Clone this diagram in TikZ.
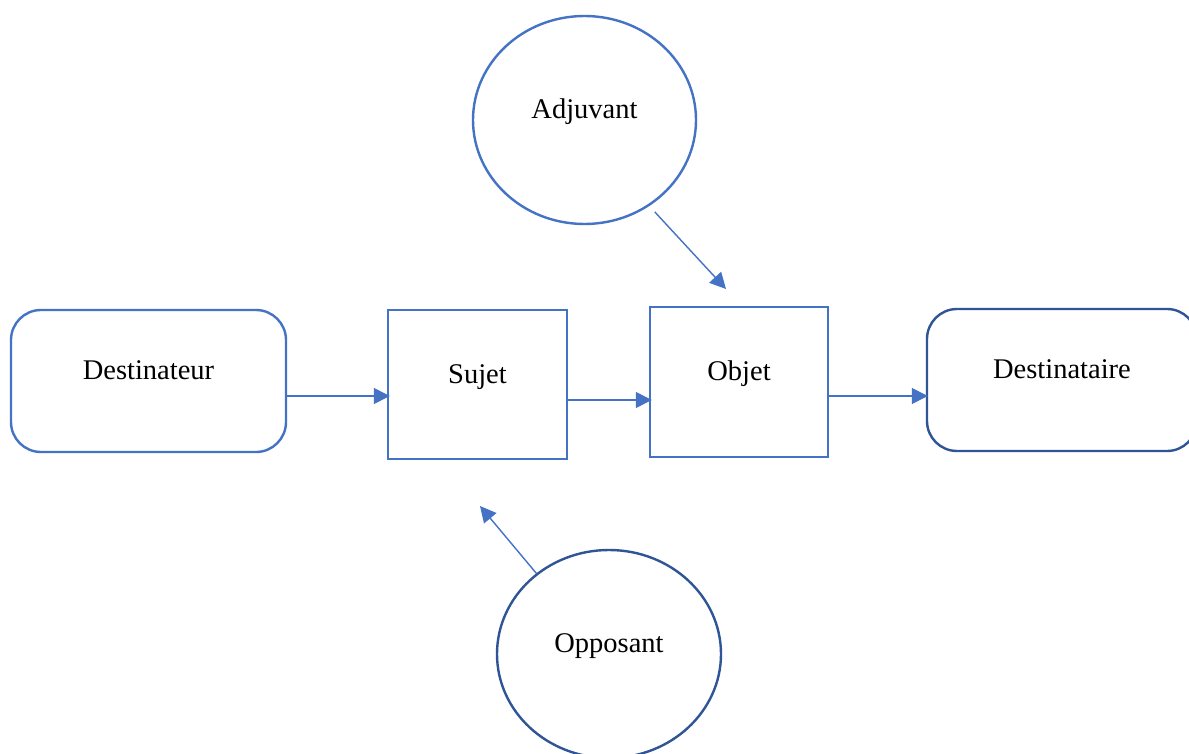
\documentclass[tikz,border=0pt]{standalone}
\usepackage{fontspec}
\setmainfont{Liberation Serif}
\usetikzlibrary{arrows.meta,shapes.geometric}
\definecolor{lblue}{HTML}{4472C4}
\definecolor{dblue}{HTML}{2F5597}
\tikzset{
  lbl/.style={font=\fontsize{28.5}{34}\selectfont, text height=20pt, text depth=23pt, inner sep=0pt, align=center},
  roundbox/.style={lbl, draw=#1, line width=2.4pt, rounded corners=30pt, rectangle},
  squarebox/.style={lbl, draw=lblue, line width=2.4pt, rectangle},
  oval/.style={lbl, draw=#1, line width=2.4pt, ellipse},
  conn/.style={draw=lblue, line width=1.4pt, -{Triangle[length=16pt,width=16pt]}}
}
\begin{document}
\begin{tikzpicture}[x=1pt,y=-1pt]
\path[use as bounding box, fill=white] (0,0) rectangle (1189,754);
\node[roundbox=lblue, minimum width=275pt, minimum height=142pt] (dest) at (148.5,381) {Destinateur};
\node[squarebox, minimum width=179pt, minimum height=149pt] (sujet) at (477.5,384.5) {Sujet};
\node[squarebox, minimum width=178pt, minimum height=150pt] (objet) at (739,382) {Objet};
\node[roundbox=dblue, minimum width=270pt, minimum height=142pt] (destre) at (1062,380) {Destinataire};
\node[oval=lblue, minimum width=223pt, minimum height=208pt] (adj) at (584.5,120) {Adjuvant};
\node[oval=dblue, minimum width=224pt, minimum height=208pt] (opp) at (609,654) {Opposant};
\coordinate (adjtip) at (726,289);
\coordinate (opptip) at (480,506);
\draw[conn, shorten >=-3pt] (dest.east |- 0,396) -- (sujet.west |- 0,396);
\draw[conn, shorten >=-3pt] (sujet.east |- 0,400) -- (objet.west |- 0,400);
\draw[conn, shorten >=-2pt] (objet.east |- 0,396) -- (destre.west |- 0,396);
\draw[conn, shorten <=8pt] (adj.-53) -- (adjtip);
\draw[conn] (opp.132) -- (opptip);
\end{tikzpicture}
\end{document}
